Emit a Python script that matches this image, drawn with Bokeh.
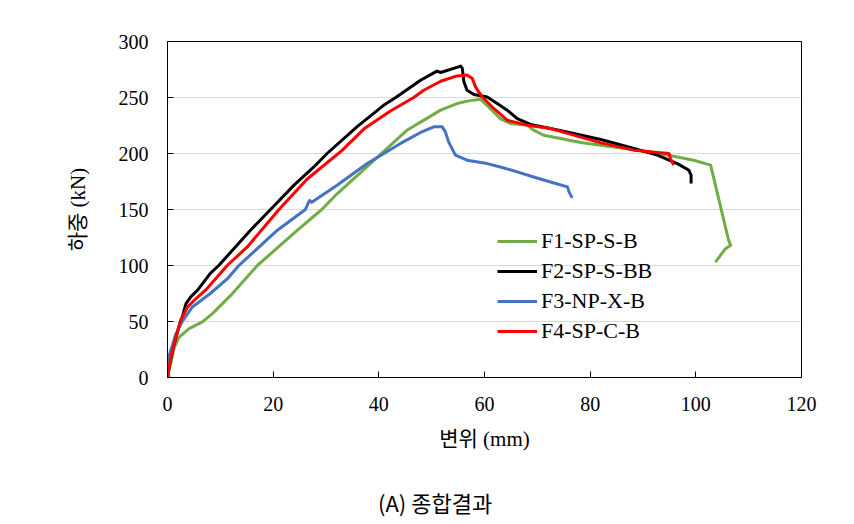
from bokeh.plotting import figure
from bokeh.models import Range1d, FixedTicker, Legend, LegendItem, Div
from bokeh.layouts import column
from bokeh.embed import file_html
from bokeh.resources import INLINE

# ---- data ----
series_names = ["F1-SP-S-B", "F2-SP-S-BB", "F3-NP-X-B", "F4-SP-C-B"]
series_colors = ["#70ad47", "#000000", "#4472c4", "#ff0000"]

f1_x = [0, 0.6, 1.3, 2.2, 4.1, 6.6, 8.5, 12.0, 17.0, 24.6, 29.2, 32.1, 38.4, 45.4, 47.9,
        51.7, 54.8, 57.0, 59.2, 60.5, 61.1, 63.0, 64.9, 68.1, 69.3, 71.2, 74.4, 78.2, 82.0,
        91.4, 95.8, 99.6, 102.8, 106.2, 106.6, 105.6, 103.7]
f1_y = [0, 12.5, 27, 36, 43.7, 49.6, 57, 73.5, 100, 131.5, 150, 164, 191, 221, 228,
        238.7, 244.6, 247, 248.5, 243, 240, 231, 226.8, 225.3, 220.8, 216.3, 213.4, 209.8, 207.4,
        201.4, 197.6, 194, 189.6, 122.6, 118, 115, 103]

f2_x = [0, 0.3, 0.8, 1.6, 2.5, 2.8, 3.5, 4.4, 5.7, 8.1, 9.7, 15.7, 19.5, 24.0, 27.7, 30.2,
        35.9, 40.9, 43.2, 47.9, 51.0, 51.7, 55.5, 55.8, 56.1, 56.7, 58.0, 60.5, 62.4, 64.3,
        66.2, 68.7, 72.5, 76.9, 82.0, 88.3, 92.7, 96.5, 98.7, 99.1, 99.1]
f2_y = [0, 9.5, 21, 36, 51, 54, 66, 72, 78, 93, 100, 131.5, 150, 172, 188, 200,
        224, 243, 250, 265.4, 273.5, 272.3, 278, 276, 264, 256.5, 252.7, 250.5, 244.6, 238.7,
        231.2, 226, 222.3, 217.9, 212.5, 204.5, 198.5, 191, 185, 180.6, 173.2]

f3_x = [0.3, 0, 0, 0.6, 1.6, 2.8, 4.7, 8.1, 11.3, 13.5, 20.8, 26.1, 26.6, 26.9, 27.3, 32.1,
        37.8, 44.1, 47.9, 50.4, 52.0, 52.6, 53.2, 54.5, 56.7, 60.5, 63.0, 66.2, 69.3, 72.5,
        75.7, 76.0, 76.6]
f3_y = [0, 8, 15.5, 24, 39, 50, 63, 75, 88, 100, 131.5, 150, 155.5, 158, 156.5, 171.7,
        191, 209, 218.8, 223.8, 223.8, 219.3, 210.4, 198.5, 194, 191, 188, 183.6, 179, 174.6,
        170.2, 165.7, 160.4]

f4_x = [0, 0.3, 0.8, 1.6, 2.5, 3.8, 5.4, 7.2, 11.3, 15.1, 21.1, 26.4, 33.1, 37.2, 42.2,
        46.6, 48.5, 51.7, 54.8, 56.7, 57.7, 58.3, 58.9, 59.6, 61.8, 64.3, 68.1, 72.5, 76.9,
        82.0, 88.3, 93.3, 94.9, 95.2, 95.8]
f4_y = [0, 9.5, 21, 36, 51, 63, 70.5, 78, 100, 116.6, 150, 177, 203, 222, 238,
        250, 256.5, 264.5, 269.3, 270, 267, 259.5, 255, 250.5, 240, 229.7, 225.3, 222.3, 216.4,
        209.5, 203, 200.6, 200, 195.5, 189.6]

x_ticks = [0, 20, 40, 60, 80, 100, 120]
y_ticks = [0, 50, 100, 150, 200, 250, 300]
x_title = "변위 (mm)"
y_title = "하중 (kN)"
caption = "(A) 종합결과"

SERIF = "Liberation Serif, Noto Sans CJK KR"

p = figure(width=846, height=470, output_backend="svg", toolbar_location=None,
           x_range=Range1d(0, 120), y_range=Range1d(0, 300),
           min_border_left=167, min_border_right=45, min_border_top=41, min_border_bottom=93)
p.background_fill_color = "white"
p.border_fill_color = "white"
p.outline_line_color = "black"
p.outline_line_width = 1

p.xgrid.grid_line_color = None
p.ygrid.grid_line_color = "#d9d9d9"
p.ygrid.grid_line_width = 1

for ax, ticks in ((p.xaxis[0], x_ticks), (p.yaxis[0], y_ticks)):
    ax.ticker = FixedTicker(ticks=ticks)
    ax.minor_tick_line_color = None
    ax.major_tick_in = 6
    ax.major_tick_out = 0
    ax.major_tick_line_color = "black"
    ax.axis_line_color = "black"
    ax.major_label_text_font = "Liberation Serif"
    ax.major_label_text_font_size = "20px"
    ax.major_label_text_color = "black"
    ax.axis_label_text_font = SERIF
    ax.axis_label_text_font_size = "21px"
    ax.axis_label_text_font_style = "normal"
    ax.axis_label_text_color = "black"

p.xaxis.major_label_standoff = 19
p.yaxis.major_label_standoff = 19
p.xaxis.axis_label = x_title
p.yaxis.axis_label = y_title
p.xaxis.axis_label_standoff = 13
p.yaxis.axis_label_standoff = 26

all_x = [f1_x, f2_x, f3_x, f4_x]
all_y = [f1_y, f2_y, f3_y, f4_y]
items = []
for name, col, xs, ys in zip(series_names, series_colors, all_x, all_y):
    r = p.line(xs, ys, line_color=col, line_width=3, line_join="round")
    items.append(LegendItem(label=name, renderers=[r]))

legend = Legend(items=items, location=(330, 33), orientation="vertical",
                border_line_color=None, background_fill_alpha=0,
                padding=0, margin=0, spacing=4, glyph_width=40, glyph_height=24,
                label_height=24, label_standoff=4,
                label_text_font="Liberation Serif", label_text_font_size="22px",
                label_text_color="black")
p.add_layout(legend, "center")

cap = Div(text='<span style="font-family: \'Noto Sans CJK KR\'; font-size: 22px; '
               'line-height: 24px; color: black; white-space: nowrap;">' + caption + '</span>',
          width=300, height=24, margin=(20, 0, 0, 378),
          styles={"font-family": "Noto Sans CJK KR", "font-size": "22px",
                  "line-height": "24px", "color": "black"})

layout = column(p, cap, spacing=0)
open("out.html", "w").write(file_html(layout, INLINE))
